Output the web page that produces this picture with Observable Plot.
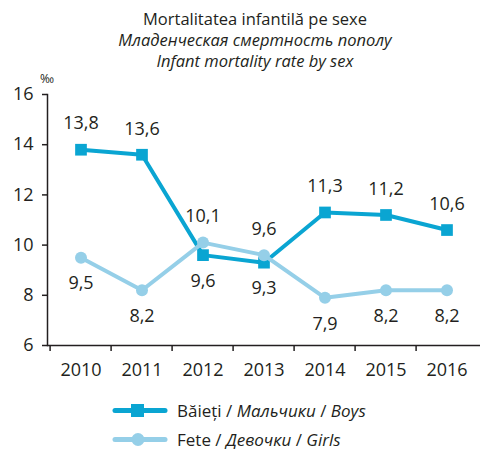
<!DOCTYPE html>
<html><head><meta charset="utf-8">
<script src="https://cdn.jsdelivr.net/npm/d3@7"></script>
<script src="https://cdn.jsdelivr.net/npm/@observablehq/plot@0.6"></script>
<style>
body{margin:0;background:#fff;font-family:"Open Sans",sans-serif;color:#231f20}
#wrap{position:relative;width:480px;height:450px;overflow:hidden;background:#fff}
#title{position:absolute;top:8px;left:30px;width:450px;text-align:center;font-size:16.5px;line-height:21px}
#title .it{font-style:italic}
#unit{position:absolute;left:40px;top:70px;font-size:12px}
#chart{position:absolute;left:0;top:72px}
#legend{position:absolute;left:112px;top:396px;font-size:17px}
.row{display:flex;align-items:center;height:29px}
.row svg{margin-right:9px}
</style></head>
<body>
<div id="wrap">
  <div id="title"></div>
  <div id="unit">‰</div>
  <div id="chart"></div>
  <div id="legend"></div>
</div>
<script>
const titleLines = ["Mortalitatea infantilă pe sexe", "Младенческая смертность пополу", "Infant mortality rate by sex"];
const years = ["2010","2011","2012","2013","2014","2015","2016"];
const boys = [13.8, 13.6, 9.6, 9.3, 11.3, 11.2, 10.6];
const girls = [9.5, 8.2, 10.1, 9.6, 7.9, 8.2, 8.2];
const boysSide = ["above","above","below","below","above","above","above"];
const girlsSide = ["below","below","above","above","below","below","below"];
const yTicks = [6, 8, 10, 12, 14, 16];
const seriesNames = ["Boys", "Girls"];
const legendLabels = [
  'Băieți / <i>Мальчики</i> / <i>Boys</i>',
  'Fete / <i>Девочки</i> / <i>Girls</i>'
];
const colors = {Boys: "#0aa5d2", Girls: "#95cfe8"};

document.getElementById("title").innerHTML =
  titleLines.map((t, i) => `<div class="${i ? "it" : ""}">${t}</div>`).join("");

const data = [];
years.forEach((y, i) => data.push({year: y, value: boys[i], series: "Boys", side: boysSide[i]}));
years.forEach((y, i) => data.push({year: y, value: girls[i], series: "Girls", side: girlsSide[i]}));
const fmt = v => v.toFixed(1).replace(".", ",");

const chart = Plot.plot({
  width: 480,
  height: 310,
  marginTop: 22,
  marginBottom: 37,
  marginLeft: 47,
  marginRight: 0,
  style: {fontFamily: "'Open Sans', sans-serif", fontSize: "18px", color: "#231f20", background: "transparent", overflow: "visible"},
  x: {type: "band", domain: years, padding: 0},
  y: {domain: [6, 16]},
  color: {domain: seriesNames, range: seriesNames.map(s => colors[s])},
  marks: [
    Plot.axisY({ticks: yTicks, tickSize: 5, tickPadding: 9, label: null, stroke: "#231f20", strokeWidth: 1.5, fontSize: 18}),
    Plot.axisX({tickSize: 6, text: null, dx: -30.9, label: null, stroke: "#231f20", strokeWidth: 1.5}),
    Plot.axisX({tickSize: 0, tickPadding: 18, label: null, fontSize: 18}),
    Plot.frame({anchor: "left", stroke: "#231f20", strokeWidth: 1.5}),
    Plot.ruleY([6], {stroke: "#231f20", strokeWidth: 1.5}),
    Plot.line(data.filter(d => d.series === "Boys"), {x: "year", y: "value", stroke: "series", strokeWidth: 4}),
    Plot.dot(data.filter(d => d.series === "Boys"), {x: "year", y: "value", fill: "series", symbol: "square", r: 6.6}),
    Plot.line(data.filter(d => d.series === "Girls"), {x: "year", y: "value", stroke: "series", strokeWidth: 4}),
    Plot.dot(data.filter(d => d.series === "Girls"), {x: "year", y: "value", fill: "series", r: 6}),
    Plot.text(data.filter(d => d.side === "above"), {x: "year", y: "value", text: d => fmt(d.value), dy: -26, fill: "#231f20", fontSize: 18}),
    Plot.text(data.filter(d => d.side === "below"), {x: "year", y: "value", text: d => fmt(d.value), dy: 26, fill: "#231f20", fontSize: 18})
  ]
});
document.getElementById("chart").appendChild(chart);

const legend = document.getElementById("legend");
seriesNames.forEach((s, i) => {
  const row = document.createElement("div");
  row.className = "row";
  const marker = s === "Boys"
    ? `<rect x="19" y="4" width="13" height="13" fill="${colors[s]}"/>`
    : `<circle cx="26" cy="10.5" r="6.5" fill="${colors[s]}"/>`;
  row.innerHTML = `<svg width="56" height="21"><line x1="3" x2="53" y1="10.5" y2="10.5" stroke="${colors[s]}" stroke-width="5" stroke-linecap="round"/>${marker}</svg><span>${legendLabels[i]}</span>`;
  legend.appendChild(row);
});
</script>
</body></html>
